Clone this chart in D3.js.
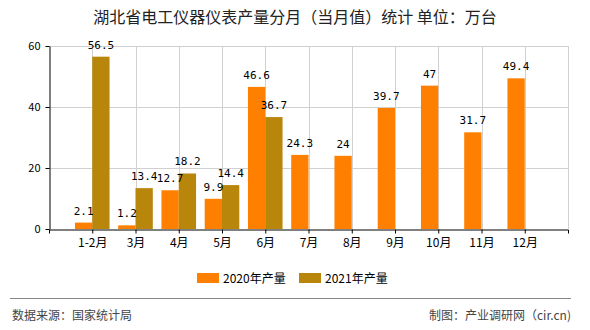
<!DOCTYPE html>
<html>
<head>
<meta charset="utf-8">
<script src="https://cdn.jsdelivr.net/npm/d3@7"></script>
<style>
  html, body { margin: 0; padding: 0; background: #fff; }
  svg { display: block; }
</style>
</head>
<body>
<div id="chart"></div>
<script>
const categories = ["1-2月", "3月", "4月", "5月", "6月", "7月", "8月", "9月", "10月", "11月", "12月"];
const values2020 = [2.1, 1.2, 12.7, 9.9, 46.6, 24.3, 24, 39.7, 47, 31.7, 49.4];
const values2021 = [56.5, 13.4, 18.2, 14.4, 36.7, null, null, null, null, null, null];
const seriesNames = ["2020年产量", "2021年产量"];
const seriesColors = ["#ff8000", "#b8860b"];
const yTicks = [0, 20, 40, 60];
const titleText = "湖北省电工仪器仪表产量分月（当月值）统计 单位：万台";
const sourceText = "数据来源：国家统计局";
const creditText = "制图：产业调研网（cir.cn)";

(function () {
const W = 590, H = 330;
const pL = 49, pR = 568, pT = 46, pB = 229;
const cjk = "'Noto Sans CJK SC', 'Noto Sans', sans-serif";
const mono = "'DejaVu Sans Mono', 'Liberation Mono', monospace";

const svg = d3.select("#chart").append("svg").attr("width", W).attr("height", H);

const x = d3.scalePoint().domain(categories).range([pL, pR]).padding(1);
const y = d3.scaleLinear().domain([0, 60]).range([pB, pT]);
const bw = x.step() * 0.4;

// grid
const grid = svg.append("g");
grid.selectAll("line.h").data(yTicks.filter(d => d > 0)).join("line")
  .attr("x1", pL).attr("x2", pR).attr("y1", d => Math.round(y(d)) + 0.5).attr("y2", d => Math.round(y(d)) + 0.5)
  .attr("stroke", "#d0d0d0").attr("stroke-width", 1);
grid.selectAll("line.v").data(categories).join("line")
  .attr("x1", d => Math.round(x(d)) + 0.5).attr("x2", d => Math.round(x(d)) + 0.5)
  .attr("y1", pT).attr("y2", pB)
  .attr("stroke", "#d0d0d0").attr("stroke-width", 1);
grid.append("line").attr("x1", pR + 0.5).attr("x2", pR + 0.5).attr("y1", pT).attr("y2", pB)
  .attr("stroke", "#d0d0d0");

// bars
const d20 = values2020.map((v, i) => ({c: categories[i], v}));
const d21 = values2021.map((v, i) => ({c: categories[i], v})).filter(d => d.v != null);
svg.append("g").selectAll("rect").data(d20).join("rect")
  .attr("x", d => x(d.c) - bw).attr("width", bw)
  .attr("y", d => y(d.v)).attr("height", d => y(0) - y(d.v))
  .attr("fill", seriesColors[0]);
svg.append("g").selectAll("rect").data(d21).join("rect")
  .attr("x", d => x(d.c)).attr("width", bw)
  .attr("y", d => y(d.v)).attr("height", d => y(0) - y(d.v))
  .attr("fill", seriesColors[1]);

// value labels
svg.append("g").selectAll("text").data(d20).join("text")
  .attr("x", d => x(d.c) - bw / 2).attr("y", d => y(d.v) - 8)
  .attr("text-anchor", "middle").attr("font-family", mono).attr("font-size", 11).attr("fill", "#000")
  .text(d => d.v);
svg.append("g").selectAll("text").data(d21).join("text")
  .attr("x", d => x(d.c) + bw / 2).attr("y", d => y(d.v) - 8)
  .attr("text-anchor", "middle").attr("font-family", mono).attr("font-size", 11).attr("fill", "#000")
  .text(d => d.v);

// axes
const yAxis = svg.append("g").attr("transform", `translate(${pL + 0.5},0)`)
  .call(d3.axisLeft(y).tickValues(yTicks).tickSize(4).tickSizeOuter(0));
yAxis.select(".domain").attr("stroke", "#000");
yAxis.selectAll("line").attr("stroke", "#000");
yAxis.selectAll("text").attr("font-family", cjk).attr("font-size", 11).attr("fill", "#000").attr("dx", "-2");

const xAxis = svg.append("g").attr("transform", `translate(0,${pB + 0.5})`)
  .call(d3.axisBottom(x).tickSize(4).tickSizeOuter(4));
xAxis.select(".domain").attr("stroke", "#000");
xAxis.selectAll("line").attr("stroke", "#000");
xAxis.selectAll("text").attr("font-family", cjk).attr("font-size", 12).attr("fill", "#000").attr("dy", "0.9em");

// title
svg.append("text").attr("x", W / 2).attr("y", 23).attr("text-anchor", "middle")
  .attr("font-family", cjk).attr("font-size", 16).attr("fill", "#222")
  .text(titleText);

// legend
const legend = svg.append("g");
const lx = [197, 299];
seriesNames.forEach((n, i) => {
  legend.append("rect").attr("x", lx[i]).attr("y", 273).attr("width", 22).attr("height", 10).attr("fill", seriesColors[i]);
  legend.append("text").attr("x", lx[i] + 26).attr("y", 282.5).attr("font-family", cjk).attr("font-size", 12)
    .attr("fill", "#000").text(n);
});

// footer
svg.append("line").attr("x1", 10).attr("x2", 571).attr("y1", 298.5).attr("y2", 298.5).attr("stroke", "#888").attr("stroke-width", 1);
svg.append("text").attr("x", 12).attr("y", 320).attr("font-family", cjk).attr("font-size", 12).attr("fill", "#444").text(sourceText);
svg.append("text").attr("x", 571).attr("y", 320).attr("text-anchor", "end").attr("font-family", cjk).attr("font-size", 12).attr("fill", "#444").text(creditText);
})();
</script>
</body>
</html>
